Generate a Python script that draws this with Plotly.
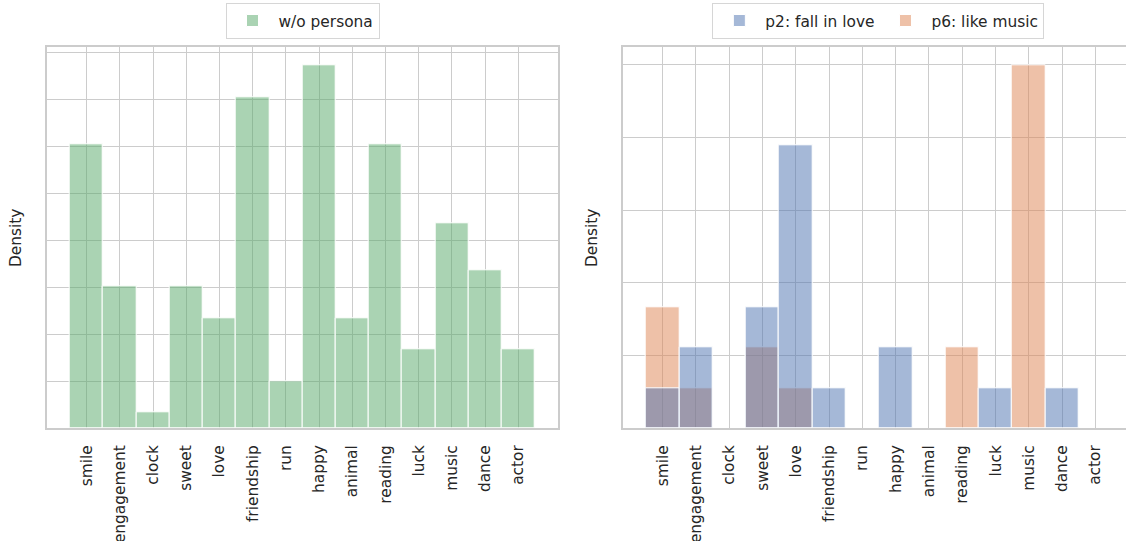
import plotly.graph_objects as go
from plotly.subplots import make_subplots

# ---- data ----
categories = ["smile", "engagement", "clock", "sweet", "love", "friendship", "run",
              "happy", "animal", "reading", "luck", "music", "dance", "actor"]

# counts per category (histogram, stat = density)
wo_persona_counts = [18, 9, 1, 9, 7, 21, 3, 23, 7, 18, 5, 13, 10, 5]
p2_fall_in_love_counts = [1, 2, 0, 3, 7, 1, 0, 2, 0, 0, 1, 0, 1, 0]
p6_like_music_counts = [3, 1, 0, 2, 1, 0, 0, 0, 0, 2, 0, 9, 0, 0]

series_names = ["w/o persona", "p2: fall in love", "p6: like music"]


def density(counts):
    total = float(sum(counts))
    return [c / total if c > 0 else None for c in counts]


FONT = "DejaVu Sans"
TXT = "#262626"
GRID = "#cccccc"
FS = 15.4

fig = make_subplots(rows=1, cols=2)

fig.add_trace(go.Bar(
    x=categories, y=density(wo_persona_counts), name=series_names[0],
    marker=dict(color="rgba(85,168,104,0.5)", line=dict(color="white", width=1)),
    legend="legend", showlegend=True,
), row=1, col=1)

# orange first so that blue is drawn on top (matches overlap colour)
fig.add_trace(go.Bar(
    x=categories, y=density(p6_like_music_counts), name=series_names[2],
    marker=dict(color="rgba(221,132,82,0.5)", line=dict(color="white", width=1)),
    legend="legend2", legendrank=2,
), row=1, col=2)
fig.add_trace(go.Bar(
    x=categories, y=density(p2_fall_in_love_counts), name=series_names[1],
    marker=dict(color="rgba(76,114,176,0.5)", line=dict(color="white", width=1)),
    legend="legend2", legendrank=1,
), row=1, col=2)

W, H = 1126, 541
left_dom = [46.7 / W, 558.3 / W]
right_dom = [622.7 / W, 1.0]
y_dom = [(H - 428.3) / H, (H - 47.3) / H]

common_x = dict(type="category", categoryorder="array", categoryarray=categories,
                tickangle=-90, showgrid=True, gridcolor=GRID, gridwidth=1,
                showline=True, linecolor=GRID, linewidth=1.5, mirror=True,
                ticks="", ticklabelstandoff=9,
                tickfont=dict(family=FONT, size=FS, color=TXT), zeroline=False)
common_y = dict(showgrid=True, gridcolor=GRID, gridwidth=1, showticklabels=False,
                showline=True, linecolor=GRID, linewidth=1.5, ticks="", zeroline=False,
                title=dict(text="Density", font=dict(family=FONT, size=FS, color=TXT), standoff=20))

fig.update_xaxes(common_x)
fig.update_yaxes(common_y)
fig.update_xaxes(domain=left_dom, range=[-1.2, 14.2], row=1, col=1)
fig.update_xaxes(domain=right_dom, range=[-1.2, 13.92], row=1, col=2)
fig.update_yaxes(domain=y_dom, range=[0, 0.1621], dtick=0.02, tick0=0, mirror=True, row=1, col=1)
fig.update_yaxes(domain=y_dom, range=[0, 0.5243], dtick=0.1, tick0=0, mirror=False, row=1, col=2)

legend_style = dict(orientation="h", xanchor="center", yanchor="bottom",
                    y=(H - 39) / H, bgcolor="white", bordercolor="#d6d6d6", borderwidth=1,
                    itemwidth=42,
                    font=dict(family=FONT, size=FS, color=TXT), traceorder="normal")

fig.update_layout(
    width=W, height=H,
    margin=dict(l=0, r=0, t=0, b=0, autoexpand=False),
    paper_bgcolor="white", plot_bgcolor="white",
    barmode="overlay", bargap=0,
    font=dict(family=FONT, size=FS, color=TXT),
    legend=dict(legend_style, x=(left_dom[0] + left_dom[1]) / 2),
    legend2=dict(legend_style, x=(622.7 + 1134) / 2 / W),
)

fig.write_html("out.html", config={"displayModeBar": False},
               post_script="document.body.style.margin='0px';document.body.style.overflow='hidden';")
